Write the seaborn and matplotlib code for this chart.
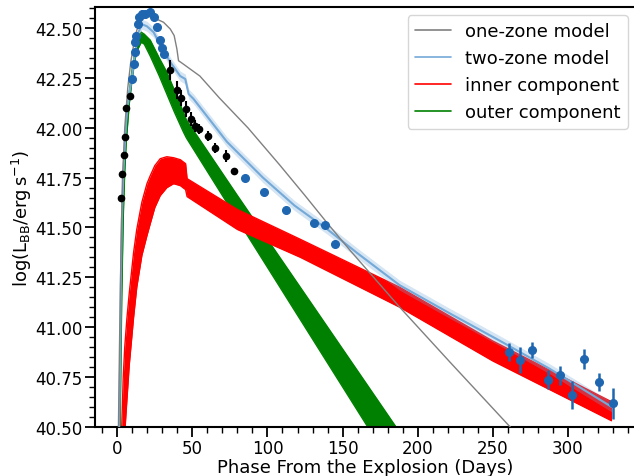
import numpy as np
import matplotlib
matplotlib.use("Agg")
import matplotlib.pyplot as plt
from matplotlib.lines import Line2D
from matplotlib.ticker import MultipleLocator, FormatStrFormatter
import seaborn as sns

# ---------------- data ----------------
# one-zone model (grey)
one_day = [0.8, 1.5, 2.5, 3.5, 5, 7, 9, 11, 13, 16, 20, 25, 30.8, 35.3, 37.9, 39.7,
           40.8, 44, 55, 68, 87, 108, 125, 140, 155, 188, 222, 262, 275]
one_L = [40.5, 40.9, 41.4, 41.75, 42.0, 42.2, 42.33, 42.42, 42.49, 42.54, 42.56, 42.55,
         42.53, 42.496, 42.463, 42.396, 42.337, 42.32, 42.26, 42.15, 42.0, 41.815,
         41.66, 41.52, 41.385, 41.10, 40.82, 40.495, 40.39]

# two-zone model (light blue) – median curve and spread
two_day = [1.3, 2, 2.4, 3.1, 4.2, 6, 7.5, 9.8, 11.9, 14.1, 16.4, 19.7, 24.2, 29.8, 35.3,
           41.9, 45.3, 47.5, 50.8, 73, 97, 118, 140, 160, 188, 222, 255, 288, 329]
two_L = [40.5, 40.875, 41.21, 41.54, 41.79, 42.04, 42.145, 42.26, 42.38, 42.48, 42.52,
         42.51, 42.48, 42.40, 42.33, 42.26, 42.245, 42.17, 42.145, 41.93, 41.75, 41.61,
         41.49, 41.37, 41.21, 41.066, 40.93, 40.79, 40.60]
two_spread = 0.025

# inner component (red) – upper and lower envelopes of the sample curves
red_day = [3, 4, 5, 6.4, 8, 10.9, 13, 16.4, 19.8, 22, 25, 28.6, 33, 37.5, 42, 45.5,
           46.5, 80, 122, 188, 250, 329]
red_hi = [40.5, 40.75, 40.9, 41.04, 41.17, 41.375, 41.49, 41.627, 41.72, 41.76, 41.81,
          41.845, 41.855, 41.85, 41.84, 41.82, 41.745, 41.59, 41.44, 41.2, 40.93, 40.625]
red_lo = [40.2, 40.35, 40.47, 40.63, 40.81, 41.05, 41.2, 41.36, 41.46, 41.52, 41.6,
          41.66, 41.70, 41.72, 41.71, 41.69, 41.655, 41.49, 41.35, 41.10, 40.83, 40.53]

# outer component (green) – upper and lower envelopes
green_day = [1.5, 2, 2.5, 3, 4, 5, 6, 8, 10, 12, 14, 16, 18, 22, 28, 33, 38, 44, 46,
             80, 120, 160, 190]
green_hi = [40.5, 40.85, 41.15, 41.4, 41.72, 41.9, 42.02, 42.18, 42.3, 42.39, 42.45,
            42.48, 42.47, 42.44, 42.35, 42.28, 42.19, 42.08, 42.04, 41.66, 41.22,
            40.78, 40.45]
green_lo = [40.3, 40.55, 40.85, 41.15, 41.55, 41.78, 41.93, 42.12, 42.25, 42.35, 42.40,
            42.43, 42.42, 42.36, 42.26, 42.17, 42.08, 41.98, 41.95, 41.54, 41.06,
            40.58, 40.22]

# observed points, black set
blk_day = [2.5, 3.3, 4.7, 5.3, 6.0, 8.7, 34.8, 39.5, 42.3, 45.7, 49.0, 51.9, 54.7,
           60.2, 65.2, 72.4, 77.4]
blk_L = [41.65, 41.77, 41.865, 41.955, 42.10, 42.16, 42.29, 42.19, 42.15, 42.095,
         42.045, 42.01, 41.995, 41.96, 41.897, 41.857, 41.785]
blk_err = [0.01, 0.01, 0.01, 0.01, 0.01, 0.01, 0.05, 0.045, 0.04, 0.04, 0.035, 0.03,
           0.025, 0.025, 0.025, 0.03, 0.005]

# observed points, blue set
blu_day = [9.8, 10.9, 11.5, 11.9, 12.6, 13.5, 14.8, 16.4, 18.6, 21.5, 24.2, 26.4, 28.6,
           29.8, 31.3, 85.2, 97.4, 112.3, 131.1, 138.2, 145.0, 260.5, 268.3, 276.4,
           286.6, 294.9, 302.6, 311.0, 321.0, 329.7]
blu_L = [42.245, 42.32, 42.38, 42.43, 42.46, 42.52, 42.555, 42.57, 42.57, 42.58, 42.555,
         42.505, 42.44, 42.40, 42.37, 41.747, 41.68, 41.59, 41.52, 41.51, 41.415,
         40.874, 40.835, 40.885, 40.736, 40.758, 40.66, 40.84, 40.723, 40.617]
blu_err = [0.02, 0.02, 0.02, 0.02, 0.02, 0.02, 0.02, 0.02, 0.02, 0.02, 0.02, 0.02, 0.02,
           0.02, 0.02, 0.01, 0.01, 0.01, 0.01, 0.01, 0.01, 0.045, 0.067, 0.042, 0.048,
           0.048, 0.071, 0.052, 0.045, 0.077]

x_ticks = [0, 50, 100, 150, 200, 250, 300]
y_ticks = [40.50, 40.75, 41.00, 41.25, 41.50, 41.75, 42.00, 42.25, 42.50]

# ---------------- plotting ----------------
sns.set_style("ticks")
plt.rcParams["font.family"] = ["DejaVu Sans"]
plt.rcParams["text.color"] = "black"
plt.rcParams["axes.labelcolor"] = "black"
plt.rcParams["xtick.color"] = "black"
plt.rcParams["ytick.color"] = "black"

C_GREY = "#808080"
C_LBLUE = "#74a9d8"
C_RED = "#ff0000"
C_GREEN = "#008000"
C_BLUE = "#1f66b1"

fig = plt.figure(figsize=(6.34, 4.77), dpi=100)
ax = fig.add_axes([95 / 634, (477 - 427.7) / 477, 541 / 634, (427.7 - 8.3) / 477])

# green band
ax.fill_between(green_day, green_lo, green_hi, color=C_GREEN, lw=0, zorder=2)
sns.lineplot(x=green_day, y=green_hi, ax=ax, color=C_GREEN, lw=1, sort=False,
             estimator=None, zorder=2)
sns.lineplot(x=green_day, y=green_lo, ax=ax, color=C_GREEN, lw=1, sort=False,
             estimator=None, zorder=2)

# red band
ax.fill_between(red_day, red_lo, red_hi, color=C_RED, lw=0, zorder=2)
sns.lineplot(x=red_day, y=red_hi, ax=ax, color=C_RED, lw=1, sort=False,
             estimator=None, zorder=2)
sns.lineplot(x=red_day, y=red_lo, ax=ax, color=C_RED, lw=1, sort=False,
             estimator=None, zorder=2)

# two-zone model
two_lo = [v - two_spread for v in two_L]
two_hi = [v + two_spread for v in two_L]
ax.fill_between(two_day, two_lo, two_hi, color=C_LBLUE, alpha=0.3, lw=0, zorder=3)
sns.lineplot(x=two_day, y=two_L, ax=ax, color=C_LBLUE, lw=1.5, sort=False,
             estimator=None, zorder=3)

# one-zone model
sns.lineplot(x=one_day, y=one_L, ax=ax, color=C_GREY, lw=1.0, sort=False,
             estimator=None, zorder=3)

# observations
ax.errorbar(blk_day, blk_L, yerr=blk_err, fmt="o", color="k", ms=4.5, elinewidth=1.5,
            capsize=0, zorder=5)
ax.errorbar(blu_day, blu_L, yerr=blu_err, fmt="o", color=C_BLUE, ms=5.5, elinewidth=1.8,
            capsize=0, zorder=5)

ax.set_xlim(-14.8, -14.8 + 541 / 1.5023)
ax.set_ylim(40.5, 42.605)
ax.set_xticks(x_ticks)
ax.set_yticks(y_ticks)
ax.yaxis.set_major_formatter(FormatStrFormatter("%.2f"))
ax.xaxis.set_minor_locator(MultipleLocator(10))
ax.yaxis.set_minor_locator(MultipleLocator(0.05))
ax.tick_params(which="major", direction="out", length=7, width=1.3, labelsize=12,
               color="k", labelcolor="k", pad=2)
ax.tick_params(which="minor", direction="out", length=4, width=1.0, color="k")
for sp in ax.spines.values():
    sp.set_linewidth(1.5)
    sp.set_color("k")

ax.set_xlabel("Phase From the Explosion (Days)", fontsize=13, labelpad=0.5, color="k")
ax.set_ylabel(r"log(L$_{\rm BB}$/erg$\,$s$^{-1}$)", fontsize=13, labelpad=1, color="k")

handles = [Line2D([], [], color=C_GREY, lw=1.2),
           Line2D([], [], color=C_LBLUE, lw=1.2),
           Line2D([], [], color=C_RED, lw=1.2),
           Line2D([], [], color=C_GREEN, lw=1.2)]
labels = ["one-zone model", "two-zone model", "inner component", "outer component"]
leg = ax.legend(handles, labels, loc="upper right", bbox_to_anchor=(628 / 634, 1 - 16 / 477),
                bbox_transform=fig.transFigure, fontsize=13, frameon=True, borderaxespad=0)
for t in leg.get_texts():
    t.set_color("k")

fig.savefig("out.png", dpi=100)
